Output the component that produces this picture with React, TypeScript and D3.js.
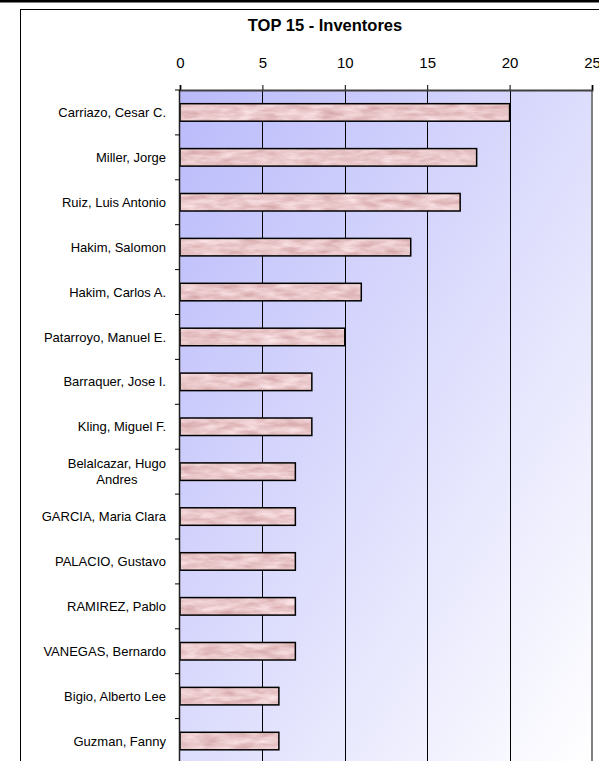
import React, { useEffect, useRef } from "react";
import * as d3 from "d3";

const title = "TOP 15 - Inventores";
const inventors = [
  "Carriazo, Cesar C.",
  "Miller, Jorge",
  "Ruiz, Luis Antonio",
  "Hakim, Salomon",
  "Hakim, Carlos A.",
  "Patarroyo, Manuel E.",
  "Barraquer, Jose I.",
  "Kling, Miguel F.",
  "Belalcazar, Hugo Andres",
  "GARCIA, Maria Clara",
  "PALACIO, Gustavo",
  "RAMIREZ, Pablo",
  "VANEGAS, Bernardo",
  "Bigio, Alberto Lee",
  "Guzman, Fanny",
];
const patents = [20, 18, 17, 14, 11, 10, 8, 8, 7, 7, 7, 7, 7, 6, 6];
const xTicks = [0, 5, 10, 15, 20, 25];

const W = 599;
const H = 761;
const FONT = "Arial, 'Liberation Sans', sans-serif";

export default function App() {
  const ref = useRef<SVGSVGElement | null>(null);

  useEffect(() => {
    const svg = d3.select(ref.current);
    svg.selectAll("*").remove();

    const left = 180, right = 592, top = 90, step = 44.9;
    const bottom = top + step * inventors.length;

    const x = d3.scaleLinear().domain([0, 25]).range([left, right]);
    const y = d3
      .scaleBand<string>()
      .domain(inventors)
      .range([top, bottom])
      .paddingInner(0.61)
      .paddingOuter(0.305);

    const defs = svg.append("defs");
    const grad = defs
      .append("linearGradient")
      .attr("id", "bg")
      .attr("x1", 0).attr("y1", 0).attr("x2", 1).attr("y2", 1);
    grad.append("stop").attr("offset", "0%").attr("stop-color", "#babafb");
    grad.append("stop").attr("offset", "100%").attr("stop-color", "#ffffff");

    const f = defs
      .append("filter")
      .attr("id", "marble")
      .attr("filterUnits", "userSpaceOnUse")
      .attr("color-interpolation-filters", "sRGB")
      .attr("x", 0).attr("y", 0).attr("width", W).attr("height", H);
    f.append("feTurbulence")
      .attr("type", "fractalNoise")
      .attr("baseFrequency", "0.05 0.18")
      .attr("numOctaves", 3)
      .attr("seed", 7)
      .attr("result", "n");
    f.append("feColorMatrix")
      .attr("in", "n")
      .attr("type", "matrix")
      .attr(
        "values",
        "0.2 0 0 0 0.815  0.32 0 0 0 0.62  0.32 0 0 0 0.63  0 0 0 0 1"
      )
      .attr("result", "c");
    f.append("feComposite")
      .attr("in", "c").attr("in2", "SourceGraphic").attr("operator", "in");

    // page background
    svg.append("rect").attr("width", W).attr("height", H).attr("fill", "#ffffff");
    // top black band
    svg.append("rect").attr("x", 0).attr("y", 0).attr("width", W).attr("height", 2.5).attr("fill", "#000");
    // chart frame
    svg.append("rect")
      .attr("x", 20.5).attr("y", 9.5).attr("width", 700).attr("height", 900)
      .attr("fill", "#fff").attr("stroke", "#000").attr("stroke-width", 1);

    // title
    svg.append("text")
      .attr("x", 325).attr("y", 30.5)
      .attr("text-anchor", "middle")
      .attr("font-family", FONT).attr("font-size", 16.5).attr("font-weight", "bold")
      .attr("fill", "#000")
      .text(title);

    // plot area
    svg.append("rect")
      .attr("x", left).attr("y", top).attr("width", right - left).attr("height", bottom - top)
      .attr("fill", "url(#bg)");

    // gridlines
    svg.append("g").selectAll("line")
      .data(xTicks.filter((t) => t > 0 && t < 25))
      .join("line")
      .attr("x1", (d) => Math.round(x(d)) + 0.5).attr("x2", (d) => Math.round(x(d)) + 0.5)
      .attr("y1", top).attr("y2", bottom)
      .attr("stroke", "#000").attr("stroke-width", 1);

    // right border
    svg.append("line")
      .attr("x1", right).attr("x2", right).attr("y1", top).attr("y2", bottom)
      .attr("stroke", "#808080").attr("stroke-width", 2);

    // top axis
    const xAxis = d3.axisTop(x).tickValues(xTicks).tickSize(5).tickPadding(17);
    const gx = svg.append("g").attr("transform", `translate(0,${top})`).call(xAxis);
    gx.select(".domain").attr("stroke", "#404040").attr("stroke-width", 2);
    gx.selectAll(".tick line").attr("stroke", "#000");
    gx.selectAll(".tick text")
      .attr("font-family", FONT).attr("font-size", 15).attr("fill", "#000");

    // bars
    const bars = svg.append("g");
    bars.selectAll("rect.fill")
      .data(inventors)
      .join("rect")
      .attr("class", "fill")
      .attr("x", x(0))
      .attr("y", (d) => y(d)!)
      .attr("width", (d, i) => x(patents[i]) - x(0))
      .attr("height", y.bandwidth())
      .attr("fill", "#e9c5c6")
      .attr("filter", "url(#marble)");
    bars.selectAll("rect.edge")
      .data(inventors)
      .join("rect")
      .attr("class", "edge")
      .attr("x", x(0))
      .attr("y", (d) => y(d)!)
      .attr("width", (d, i) => x(patents[i]) - x(0))
      .attr("height", y.bandwidth())
      .attr("fill", "none")
      .attr("stroke", "#000")
      .attr("stroke-width", 1.5);

    // left axis
    svg.append("line")
      .attr("x1", left - 0.5).attr("x2", left - 0.5).attr("y1", top).attr("y2", bottom)
      .attr("stroke", "#202020").attr("stroke-width", 1.5);
    const boundaries = d3.range(inventors.length + 1).map((i) => top + i * step);
    svg.append("g").selectAll("line")
      .data(boundaries)
      .join("line")
      .attr("x1", left - 5).attr("x2", left)
      .attr("y1", (d) => d).attr("y2", (d) => d)
      .attr("stroke", "#000").attr("stroke-width", 1);

    // category labels
    const labelRight = 166;
    const lg = svg.append("g")
      .attr("font-family", FONT).attr("font-size", 13).attr("fill", "#000");
    inventors.forEach((name) => {
      const cy = y(name)! + y.bandwidth() / 2;
      const t = lg.append("text").attr("text-anchor", "end").attr("x", labelRight).attr("y", cy + 4.6).text(name);
      const w = (t.node() as SVGTextElement).getComputedTextLength();
      if (w > 135) {
        t.remove();
        const words = name.split(" ");
        const lines: string[] = [];
        let cur = "";
        words.forEach((wd) => {
          const test = cur ? cur + " " + wd : wd;
          const probe = lg.append("text").text(test);
          const pw = (probe.node() as SVGTextElement).getComputedTextLength();
          probe.remove();
          if (pw > 120 && cur) {
            lines.push(cur);
            cur = wd;
          } else cur = test;
        });
        if (cur) lines.push(cur);
        const probe = lg.append("text").text(lines[0]);
        const w0 = (probe.node() as SVGTextElement).getComputedTextLength();
        probe.remove();
        const cx = labelRight - w0 / 2;
        const lh = 15.7;
        lines.forEach((ln, k) => {
          lg.append("text")
            .attr("text-anchor", "middle")
            .attr("x", cx)
            .attr("y", cy + 4.6 + (k - (lines.length - 1) / 2) * lh)
            .text(ln);
        });
      }
    });
  }, []);

  return (
    <svg
      ref={ref}
      width={W}
      height={H}
      style={{ position: "absolute", left: 0, top: 0, display: "block" }}
    />
  );
}
